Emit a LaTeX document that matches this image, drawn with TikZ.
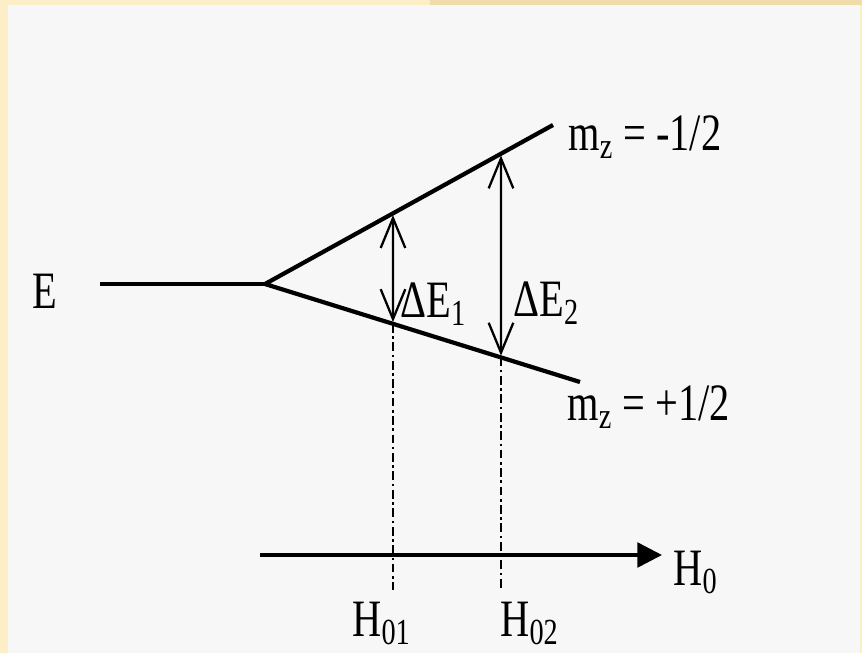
\documentclass[tikz,border=0pt]{standalone}
\usepackage{fontspec}
\setmainfont{Liberation Serif}
\usepackage{graphicx}
\usetikzlibrary{arrows.meta,calc}
\definecolor{frame}{HTML}{FCEFC8}
\definecolor{framegold}{HTML}{E6D095}
\definecolor{paper}{HTML}{F7F7F7}
\newcommand{\tall}[1]{\scalebox{1}[1.3]{#1}}

\begin{document}
\begin{tikzpicture}[x=0.02cm, y=-0.02cm, font=\fontsize{23}{27}\selectfont,
  level/.style={line width=2.4pt, line join=round},
  gap/.style={line width=1.3pt, shorten <=1pt, shorten >=1pt,
    {Straight Barb[length=17pt,width=14pt]}-{Straight Barb[length=17pt,width=14pt]}},
  guide/.style={line width=1.5pt, dash pattern=on 5pt off 2pt on 1.5pt off 2pt},
  axis/.style={line width=2pt, -{Triangle[length=14pt,width=14pt]}},
  lbl/.style={inner sep=0pt, anchor=base west}]
  % page
  \fill[frame] (0,0) rectangle (862,653);
  \fill[framegold!60!frame] (430,0) rectangle (862,5);
  \fill[paper] (8,5) rectangle (860,653);
  \useasboundingbox (0,0) rectangle (862,653);
  % energy levels
  \coordinate (start) at (100,284);
  \coordinate (v) at (265,284);
  \coordinate (up) at (553,125);
  \coordinate (lo) at (580,382);
  \draw[level] (start) -- (v);
  \draw[level] (up) -- (v) -- (lo);
  % splittings at H01 and H02
  \coordinate (u1) at ($(v)!0.4444!(up)$);
  \coordinate (l1) at ($(v)!0.4063!(lo)$);
  \coordinate (u2) at ($(v)!0.8194!(up)$);
  \coordinate (l2) at ($(v)!0.7492!(lo)$);
  \draw[gap] (l1) -- (u1);
  \draw[gap] (l2) -- (u2);
  % field axis
  \coordinate (a0) at (260,555);
  \coordinate (a1) at (662,555);
  \coordinate (foot) at (0,590);
  \draw[axis] (a0) -- (a1);
  \draw[guide] (l1) -- (l1 |- foot);
  \draw[guide] (l2) -- (l2 |- foot);
  % labels
  \node[lbl] (elbl) at (32,308) {\tall{E}};
  \node[lbl] (mtop) at (568,150) {\tall{m\textsubscript{z} = -1/2}};
  \node[lbl] (mbot) at (567,420) {\tall{m\textsubscript{z} = +1/2}};
  \node[lbl] (de1) at (400,317) {\tall{ΔE\textsubscript{1}}};
  \node[lbl] (de2) at (513,316) {\tall{ΔE\textsubscript{2}}};
  \node[lbl] (h0) at (673,585) {\tall{H\textsubscript{0}}};
  \node[lbl] (h01) at (352,636) {\tall{H\textsubscript{01}}};
  \node[lbl] (h02) at (500,636) {\tall{H\textsubscript{02}}};
\end{tikzpicture}
\end{document}
